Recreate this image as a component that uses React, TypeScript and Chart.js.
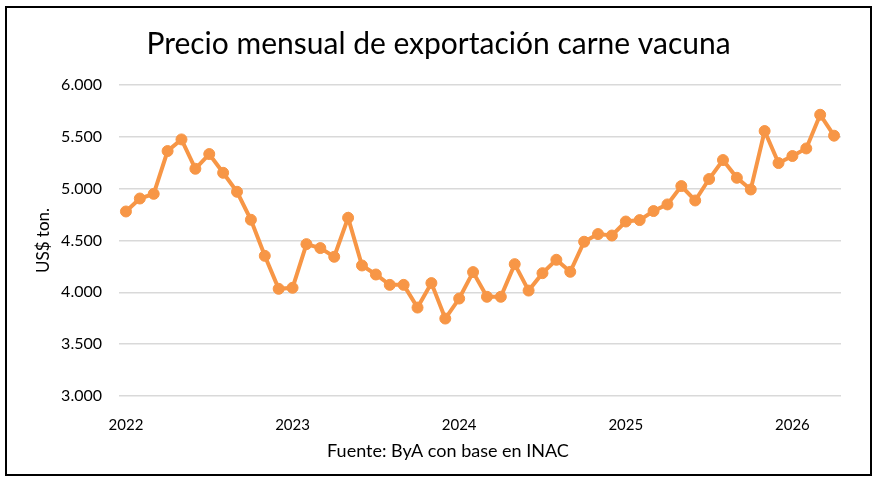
import { useEffect, useRef } from "react"
import { Chart, registerables } from "chart.js"

Chart.register(...registerables)

// months Jan 2022 .. Apr 2026
const months = [
  "2022-01", "2022-02", "2022-03", "2022-04", "2022-05", "2022-06",
  "2022-07", "2022-08", "2022-09", "2022-10", "2022-11", "2022-12",
  "2023-01", "2023-02", "2023-03", "2023-04", "2023-05", "2023-06",
  "2023-07", "2023-08", "2023-09", "2023-10", "2023-11", "2023-12",
  "2024-01", "2024-02", "2024-03", "2024-04", "2024-05", "2024-06",
  "2024-07", "2024-08", "2024-09", "2024-10", "2024-11", "2024-12",
  "2025-01", "2025-02", "2025-03", "2025-04", "2025-05", "2025-06",
  "2025-07", "2025-08", "2025-09", "2025-10", "2025-11", "2025-12",
  "2026-01", "2026-02", "2026-03", "2026-04",
]

// US$ per ton
const precios = [
  4780, 4905, 4950, 5363, 5475, 5192, 5334, 5153, 4970, 4700, 4352, 4034,
  4044, 4465, 4427, 4343, 4719, 4259, 4172, 4072, 4072, 3853, 4089, 3747,
  3940, 4195, 3957, 3957, 4272, 4017, 4185, 4314, 4198, 4488, 4562, 4548,
  4683, 4697, 4784, 4848, 5025, 4886, 5093, 5276, 5105, 4992, 5556, 5247,
  5315, 5388, 5713, 5511,
]

const yTicks = { min: 3000, max: 6000, step: 500 }

const FONT = "Lato, 'Open Sans', sans-serif"
const ORANGE = "#F79646"
const FUENTE = "Fuente: ByA con base en INAC"

const fmtMiles = (v: number) => {
  const miles = Math.floor(v / 1000)
  const resto = String(Math.round(v % 1000)).padStart(3, "0")
  return miles > 0 ? `${miles}.${resto}` : String(v)
}

// source note under the x axis, a little left of the plot centre like the original
const footerPlugin = {
  id: "footerText",
  afterDraw(chart: Chart) {
    const { ctx, chartArea } = chart
    ctx.save()
    ctx.font = `18px ${FONT}`
    ctx.fillStyle = "#000"
    ctx.textAlign = "center"
    ctx.textBaseline = "middle"
    ctx.fillText(FUENTE, (chartArea.left + chartArea.right) / 2 - 32, chartArea.bottom + 55)
    ctx.restore()
  },
}

export default function App() {
  const chartRef = useRef<HTMLCanvasElement>(null)
  const chartInstance = useRef<Chart | null>(null)

  useEffect(() => {
    if (!chartRef.current) return
    if (chartInstance.current) chartInstance.current.destroy()

    const ctx = chartRef.current.getContext("2d")
    if (!ctx) return

    chartInstance.current = new Chart(ctx, {
      type: "line",
      data: {
        labels: months,
        datasets: [
          {
            label: "Precio",
            data: precios,
            borderColor: ORANGE,
            backgroundColor: ORANGE,
            borderWidth: 4,
            pointRadius: 5.5,
            pointBorderWidth: 1,
            pointBorderColor: ORANGE,
            pointBackgroundColor: ORANGE,
            tension: 0,
          },
        ],
      },
      plugins: [footerPlugin],
      options: {
        responsive: true,
        maintainAspectRatio: false,
        animation: false,
        layout: { padding: { left: 0, right: 0, top: 0, bottom: 38 } },
        plugins: {
          legend: { display: false },
          tooltip: { enabled: false },
          title: {
            display: true,
            text: "Precio mensual de exportación carne vacuna",
            color: "#000",
            font: { family: FONT, size: 30, weight: "normal" },
            padding: { top: 18, bottom: 23 },
          },
        },
        scales: {
          x: {
            offset: true,
            grid: { display: false },
            border: { display: false },
            ticks: {
              autoSkip: false,
              maxRotation: 0,
              padding: 12,
              color: "#000",
              font: { family: FONT, size: 15 },
              callback: (_v, i) => (months[i].endsWith("-01") ? months[i].slice(0, 4) : ""),
            },
            afterFit: (scale) => {
              scale.height = 40
            },
          },
          y: {
            min: yTicks.min,
            max: yTicks.max,
            grid: { color: "#d9d9d9", lineWidth: 1.5, drawTicks: false },
            border: { display: false },
            ticks: {
              stepSize: yTicks.step,
              padding: 17,
              color: "#000",
              font: { family: FONT, size: 16 },
              callback: (v) => fmtMiles(Number(v)),
            },
            title: {
              display: true,
              text: "US$ ton.",
              color: "#000",
              font: { family: FONT, size: 17 },
              padding: { top: 26, bottom: 0 },
            },
            afterFit: (scale) => {
              scale.width = 112
            },
          },
          // empty axis that only reserves the right margin
          yRight: {
            position: "right",
            grid: { display: false },
            border: { display: false },
            ticks: { display: false },
            afterFit: (scale) => {
              scale.width = 29
            },
          },
        },
      },
    })

    return () => {
      if (chartInstance.current) {
        chartInstance.current.destroy()
        chartInstance.current = null
      }
    }
  }, [])

  return (
    <div
      style={{
        position: "absolute",
        left: 5,
        top: 6,
        width: 867,
        height: 470,
        border: "2px solid #000",
        boxSizing: "border-box",
        background: "#fff",
      }}
    >
      <div style={{ position: "relative", width: "100%", height: "100%" }}>
        <canvas ref={chartRef} />
      </div>
    </div>
  )
}
